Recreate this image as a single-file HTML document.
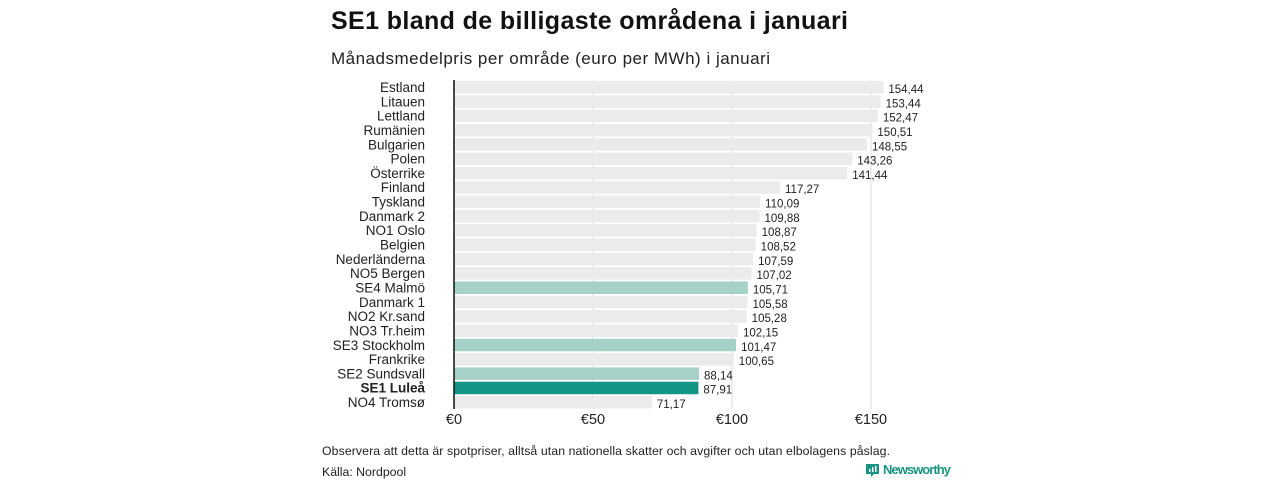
<!DOCTYPE html>
<html><head><meta charset="utf-8">
<style>
body{margin:0;background:#fff;width:1280px;height:480px;overflow:hidden;font-family:"Liberation Sans","DejaVu Sans",sans-serif;}
</style></head>
<body>
<svg width="1280" height="480" xmlns="http://www.w3.org/2000/svg">
<text x="331" y="29" font-size="25" font-weight="bold" fill="#111" textLength="517">SE1 bland de billigaste områdena i januari</text>
<text x="331" y="64" font-size="17" fill="#222" textLength="439">Månadsmedelpris per område (euro per MWh) i januari</text>
<g id="grid"></g>
<g id="bars"></g>
<line x1="454" y1="80" x2="454" y2="409" stroke="#111" stroke-width="1.5"/>
<g id="ticks"></g>
<text x="322" y="455" font-size="12.3" fill="#222" textLength="568">Observera att detta är spotpriser, alltså utan nationella skatter och avgifter och utan elbolagens påslag.</text>
<text x="322" y="476" font-size="12.3" fill="#222">Källa: Nordpool</text>
<g>
<path d="M866 464h13v10h-5l-3 3v-3h-5z" fill="#1a9482"/>
<rect x="869" y="469" width="1.5" height="3" fill="#fff"/><rect x="872" y="467" width="1.5" height="5" fill="#fff"/><rect x="875" y="466" width="1.5" height="6" fill="#fff"/>
<text x="883" y="474" font-size="13" font-weight="bold" fill="#1a9482" textLength="68">Newsworthy</text>
</g>
</svg>
<script>
const categories=["Estland","Litauen","Lettland","Rumänien","Bulgarien","Polen","Österrike","Finland","Tyskland","Danmark  2","NO1 Oslo","Belgien","Nederländerna","NO5 Bergen","SE4  Malmö","Danmark  1","NO2 Kr.sand","NO3 Tr.heim","SE3  Stockholm","Frankrike","SE2  Sundsvall","SE1 Luleå","NO4 Tromsø"];
const values=[154.44,153.44,152.47,150.51,148.55,143.26,141.44,117.27,110.09,109.88,108.87,108.52,107.59,107.02,105.71,105.58,105.28,102.15,101.47,100.65,88.14,87.91,71.17];
const highlight=["","","","","","","","","","","","","","","light","","","","light","","light","dark",""];
const tickValues=[0,50,100,150];
const tickLabels=["€0","€50","€100","€150"];
const NS="http://www.w3.org/2000/svg";
const x=v=>454+v*2.78;
const y=i=>81+i*14.32;
function mk(t,a,p){const e=document.createElementNS(NS,t);for(const k in a)e.setAttribute(k,a[k]);p.appendChild(e);return e;}
const grid=document.getElementById('grid'),bars=document.getElementById('bars'),ticks=document.getElementById('ticks');
tickValues.forEach((v,i)=>{
 const l=mk('line',{x1:x(v),x2:x(v),y1:80,y2:409,stroke:'#ddd','stroke-width':1},grid);
 
 
 const t=mk('text',{x:x(v),y:424,'font-size':14.5,'text-anchor':'middle',fill:'#222'},ticks);
 t.textContent=tickLabels[i];
 
 
});
categories.forEach((c,i)=>{
 const fill=highlight[i]==='dark'?'#139484':highlight[i]==='light'?'#a6d1c8':'#ebebeb';
 const r=mk('rect',{x:454,y:y(i),width:x(values[i])-454,height:12.5,fill:fill},bars);
 
 
 const lb=mk('text',{x:425,y:y(i)+11,'font-size':13.5,'text-anchor':'end',fill:'#222'},bars);
 if(highlight[i]==='dark')lb.setAttribute('font-weight','bold');
 lb.textContent=categories[i];
 
 
 const vl=mk('text',{x:x(values[i])+5,y:y(i)+12,'font-size':11.5,fill:'#222'},bars);
 vl.textContent=values[i].toFixed(2).replace('.',',');
 
 
});
</script>
</body></html>
